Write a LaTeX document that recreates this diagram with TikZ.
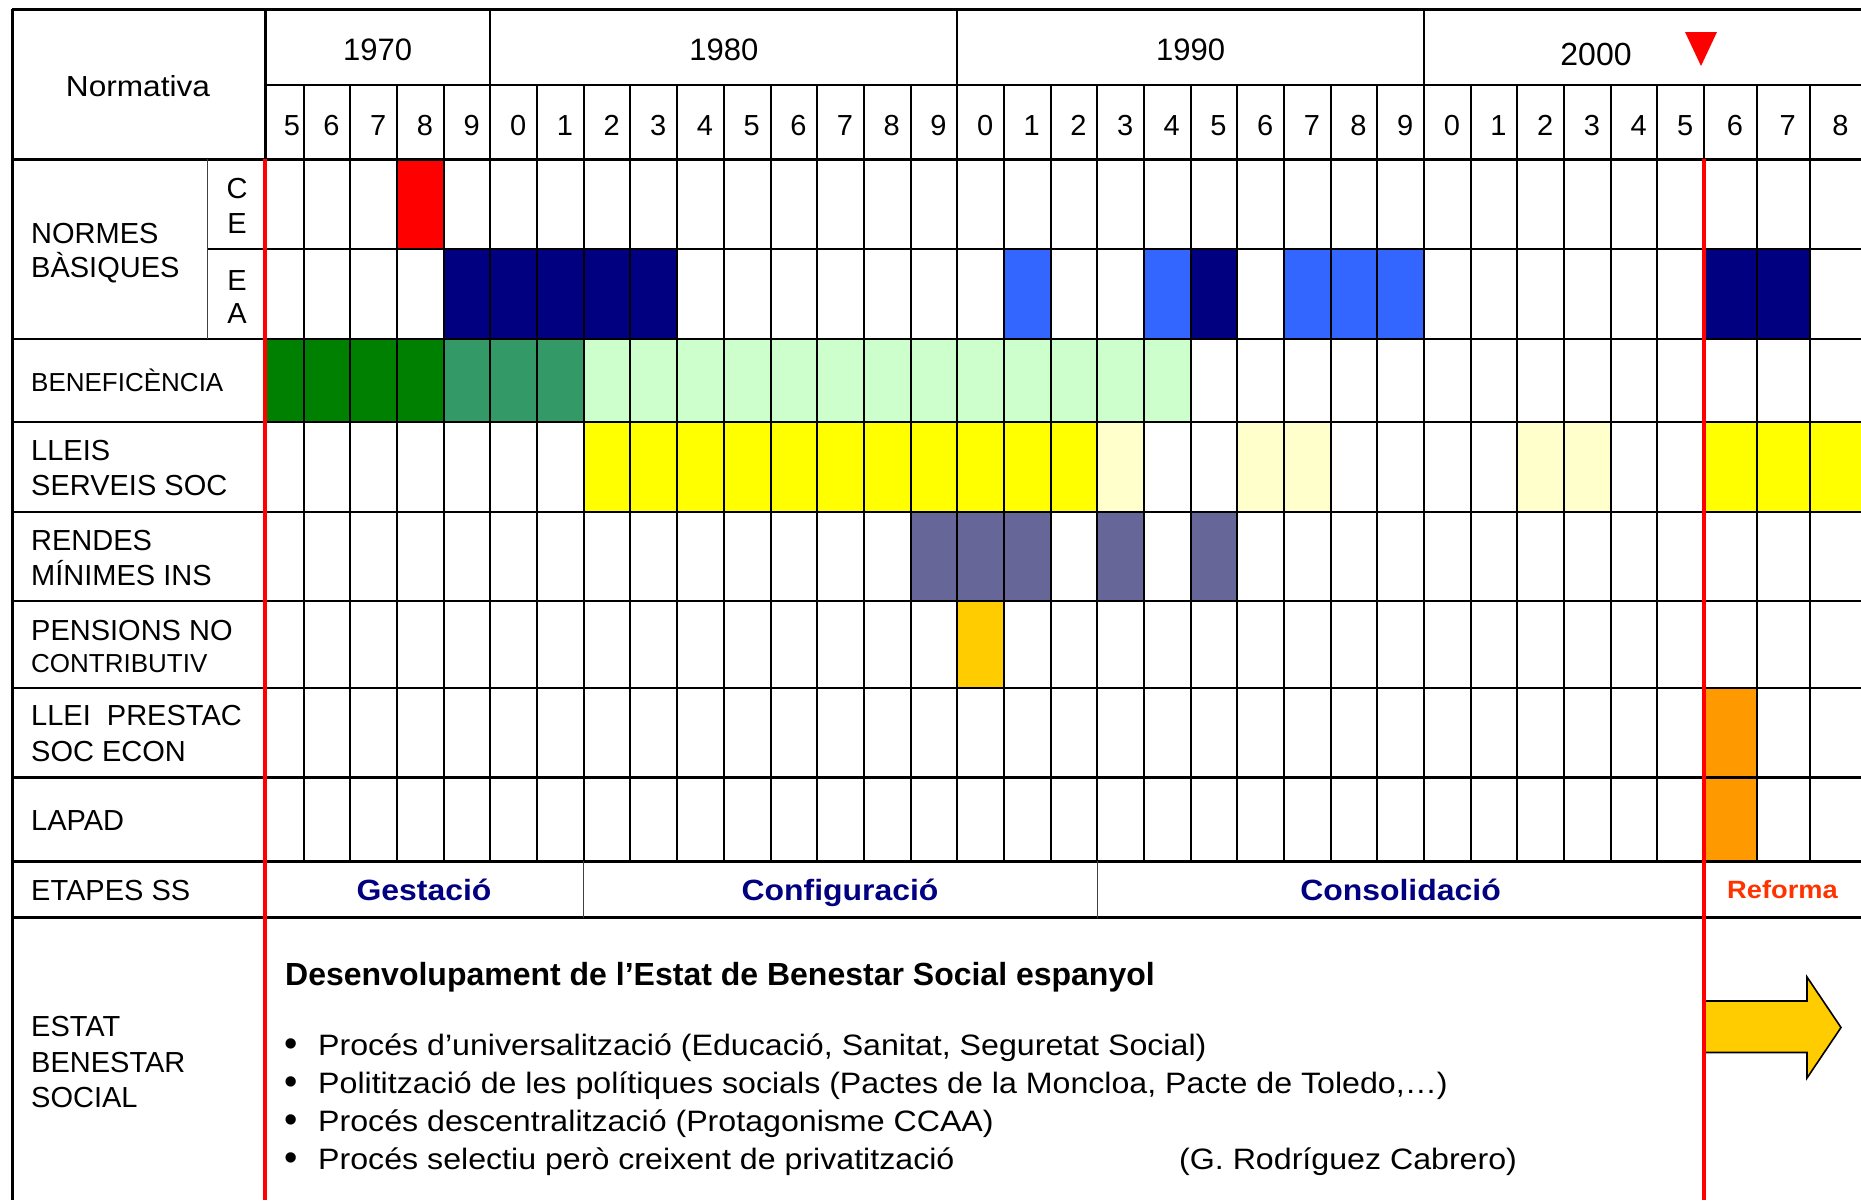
\documentclass[tikz,border=0pt]{standalone}
\usepackage{fontspec}
\setmainfont{Liberation Sans}
\newfontfamily\wfont[FakeStretch=1.09]{Liberation Sans}
\definecolor{cred}{HTML}{FF0000}
\definecolor{cnavy}{HTML}{000080}
\definecolor{cblue}{HTML}{3366FF}
\definecolor{cdkgreen}{HTML}{008000}
\definecolor{cmdgreen}{HTML}{339966}
\definecolor{cltgreen}{HTML}{CCFFCC}
\definecolor{cyellow}{HTML}{FFFF00}
\definecolor{cltyellow}{HTML}{FFFFCC}
\definecolor{cslate}{HTML}{666699}
\definecolor{cgold}{HTML}{FFCC00}
\definecolor{corange}{HTML}{FF9900}
\definecolor{cetapa}{HTML}{000080}
\definecolor{creforma}{HTML}{FF3300}
\pgfmathdeclarefunction{colx}{1}{\pgfmathparse{(#1==0)*265+(#1>0)*(#1<=31)*(303.7+(#1-1)*46.68)+(#1>31)*(1704.1+(#1-31)*52.7)}}
\newcommand\fillcells[4]{\foreach \k in {#4} {\fill[#3] ({colx(\k)},#1) rectangle ({colx(\k+1)},#2);}}
\tikzset{
  gridln/.style={line width=2pt, black},
  heavyln/.style={line width=3pt, black},
  thinln/.style={line width=1.3pt, black!75},
  redln/.style={line width=4pt, cred},
  lbl/.style={anchor=base west, inner sep=0pt, font=\fontsize{29}{35}\selectfont},
  lblsmall/.style={anchor=base west, inner sep=0pt, font=\fontsize{26}{31}\selectfont},
  ctr/.style={anchor=base, inner sep=0pt, font=\fontsize{29}{35}\selectfont},
  yr/.style={anchor=base, inner sep=0pt, font=\fontsize{31}{36}\selectfont},
  dig/.style={anchor=base, inner sep=0pt, font=\fontsize{29}{35}\selectfont},
  etapa/.style={anchor=base, inner sep=0pt, font=\wfont\bfseries\fontsize{29.3}{35}\selectfont, text=cetapa},
  bul/.style={anchor=base west, inner sep=0pt, font=\wfont\fontsize{29.5}{35}\selectfont},
  bulletmark/.style={anchor=base, inner sep=0pt, font=\fontsize{38}{40}\selectfont},
}
\begin{document}
\begin{tikzpicture}[x=1pt,y=-1pt]
\useasboundingbox (0,0) rectangle (1861,1200);
\fill[white] (0,0) rectangle (1861,1200);
% ---- coloured cells
\fillcells{159}{249}{cred}{3}
\fillcells{249}{339}{cnavy}{4,5,6,7,8,20,31,32}
\fillcells{249}{339}{cblue}{16,19,22,23,24}
\fillcells{339}{422.3}{cdkgreen}{0,1,2,3}
\fillcells{339}{422.3}{cmdgreen}{4,5,6}
\fillcells{339}{422.3}{cltgreen}{7,8,9,10,11,12,13,14,15,16,17,18,19}
\fillcells{422.3}{511.7}{cyellow}{7,8,9,10,11,12,13,14,15,16,17,31,32,33}
\fillcells{422.3}{511.7}{cltyellow}{18,21,22,27,28}
\fillcells{511.7}{601}{cslate}{14,15,16,18,20}
\fillcells{601}{687.7}{cgold}{15}
\fillcells{687.7}{777.3}{corange}{31}
\fillcells{777.3}{861}{corange}{31}
% ---- grid lines
\foreach \k in {1,...,33} {\draw[gridln] ({colx(\k)},85) -- ({colx(\k)},861);}
\foreach \k in {5,15,25} {\draw[gridln] ({colx(\k)},9) -- ({colx(\k)},85);}
\draw[heavyln] (265,9) -- (265,159);
\draw[heavyln] (12,9) -- (1861,9);
\draw[gridln] (265,85) -- (1861,85);
\draw[heavyln] (12,159) -- (1861,159);
\draw[gridln] (207.6,249) -- (1861,249);
\foreach \yy in {339,422.3,511.7,601,687.7} {\draw[gridln] (12,\yy) -- (1861,\yy);}
\draw[heavyln] (12,777.3) -- (1861,777.3);
\draw[heavyln] (12,861) -- (1861,861);
\draw[heavyln] (12,917.5) -- (1861,917.5);
\draw[heavyln] (12,9) -- (12,1200);
\draw[thinln] (207.6,159) -- (207.6,339);
\draw[thinln] ({colx(7)},861) -- ({colx(7)},917.5);
\draw[thinln] ({colx(18)},861) -- ({colx(18)},917.5);
% ---- arrow
\draw[fill=cgold, line width=1.6pt, line join=miter] (1704.1,1001) -- (1807,1001) -- (1807,977) -- (1841,1027.5) -- (1807,1078) -- (1807,1052.5) -- (1704.1,1052.5) -- cycle;
% ---- red lines and marker
\draw[redln] (265,159) -- (265,1200);
\draw[redln] ({colx(31)},159) -- ({colx(31)},1200);
\fill[cred] (1685,32) -- (1717,32) -- (1701,66) -- cycle;
% ---- header text
\node[anchor=base, inner sep=0pt, font=\wfont\fontsize{29}{35}\selectfont] (norm) at (138,96.7) {Normativa};
\node[yr] (y70) at (377.7,60) {1970};
\node[yr] (y80) at (723.8,60) {1980};
\node[yr] (y90) at (1190.6,60) {1990};
\node[anchor=base, inner sep=0pt, font=\fontsize{32}{37}\selectfont] (y00) at (1596,65.7) {2000};
\node[dig] (d0) at (292,135) {5};
\foreach \k/\d in {1/6,2/7,3/8,4/9,5/0,6/1,7/2,8/3,9/4,10/5,11/6,12/7,13/8,14/9,15/0,16/1,17/2,18/3,19/4,20/5,21/6,22/7,23/8,24/9,25/0,26/1,27/2,28/3,29/4,30/5,31/6,32/7,33/8}
  {\node[dig] (d\k) at ({(colx(\k)+colx(\k+1))/2+4.5},135) {\d};}
% ---- row labels
\node[lbl] (nb1) at (31,243.3) {NORMES};
\node[lbl] (nb2) at (31,277.7) {BÀSIQUES};
\node[ctr] (ce1) at (237,198.3) {C};
\node[ctr] (ce2) at (237,233) {E};
\node[ctr] (ea1) at (237,290) {E};
\node[ctr] (ea2) at (237,323) {A};
\node[lblsmall] (ben) at (31,391.7) {BENEFICÈNCIA};
\node[lbl] (lle1) at (31,460) {LLEIS};
\node[lbl] (lle2) at (31,495.7) {SERVEIS SOC};
\node[lbl] (ren1) at (31,550) {RENDES};
\node[lbl] (ren2) at (31,585.7) {MÍNIMES INS};
\node[lbl] (pen1) at (31,640) {PENSIONS NO};
\node[lblsmall] (pen2) at (31,672.7) {CONTRIBUTIV};
\node[lbl] (lpr1) at (31,725.7) {LLEI\ \ PRESTAC};
\node[lbl] (lpr2) at (31,761.7) {SOC ECON};
\node[lbl] (lap) at (31,830) {LAPAD};
\node[lbl] (eta) at (31,900) {ETAPES SS};
\node[lbl] (ebs1) at (31,1036) {ESTAT};
\node[lbl] (ebs2) at (31,1072.7) {BENESTAR};
\node[lbl] (ebs3) at (31,1107.3) {SOCIAL};
% ---- etapes
\node[etapa] (ges) at (424,900) {Gestació};
\node[etapa] (con) at (840,900) {Configuració};
\node[etapa] (cns) at (1400.5,900) {Consolidació};
\node[anchor=base, inner sep=0pt, font=\wfont\bfseries\fontsize{25}{30}\selectfont, text=creforma] (ref) at (1782.5,898) {Reforma};
% ---- bottom text
\node[anchor=base west, inner sep=0pt, font=\bfseries\fontsize{32}{38}\selectfont] (tit) at (285,985) {Desenvolupament de l’Estat de Benestar Social espanyol};
\foreach \i/\yy/\t in {1/1055/{Procés d’universalització (Educació, Sanitat, Seguretat Social)},
                       2/1093/{Politització de les polítiques socials (Pactes de la Moncloa, Pacte de Toledo,…)},
                       3/1131/{Procés descentralització (Protagonisme CCAA)},
                       4/1169/{Procés selectiu però creixent de privatització}}
  {\node[bulletmark] (b\i) at (291,\yy+1) {•};
   \node[bul] (t\i) at (318,\yy) {\t};}
\node[bul] (aut) at (1179,1169) {(G. Rodríguez Cabrero)};
\end{tikzpicture}
\end{document}
